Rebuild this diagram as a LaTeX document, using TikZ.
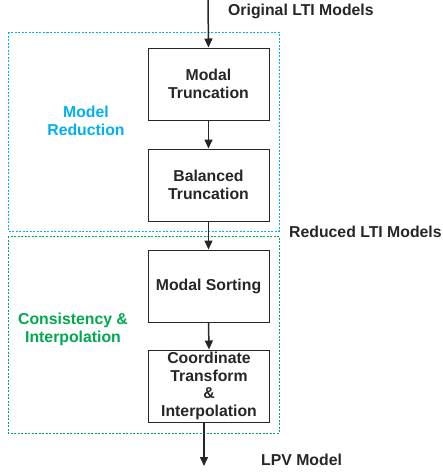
\documentclass[tikz,border=0pt]{standalone}
\usepackage{fontspec}
\setmainfont{Liberation Sans}
\usetikzlibrary{arrows.meta}
\definecolor{mrblue}{RGB}{0,176,240}
\definecolor{cigreen}{RGB}{0,168,80}
\begin{document}
\begin{tikzpicture}[x=1pt,y=-1pt,
  txt/.style={font=\fontsize{15.8}{17.8}\selectfont\bfseries, text=black!85, align=center, inner sep=0pt},
  stepbox/.style={draw=black!85, line width=1pt, minimum width=121pt, minimum height=72pt, inner sep=0pt, txt},
  flow/.style={draw=black!85, line width=1.5pt, -{Triangle[length=9pt,width=8pt]}},
  zone/.style={line width=0.8pt, dash pattern=on 2pt off 1.5pt},
  lbl/.style={font=\fontsize{15.8}{17.5}\selectfont\bfseries, align=center, inner sep=0pt}]
\useasboundingbox (0,0) rectangle (443,472);
\draw[zone, draw=mrblue] (8,32) rectangle (279,231);
\draw[zone, draw=cigreen] (8,236) rectangle (279,433);
\node[stepbox] (b1) at (208.5,84) {Modal\\Truncation};
\node[stepbox] (b2) at (208.5,185) {Balanced\\Truncation};
\node[stepbox] (b3) at (208.5,286) {Modal Sorting};
\node[stepbox] (b4) at (209,386) {Coordinate\\Transform\\\&\\Interpolation};
\coordinate (top) at (208,0);
\coordinate (b4out) at (204,422);
\coordinate (bot) at (204,466);
\draw[flow] (top) -- (b1.north);
\draw[flow] (b1.south) -- (b2.north);
\draw[flow] (b2.south) -- (b3.north);
\draw[flow] (b3.south) -- (b4.north);
\draw[flow] (b4out) -- (bot);
\node[txt, anchor=west] (t1) at (228,11) {Original LTI Models};
\node[txt, anchor=west] (t2) at (289,232) {Reduced LTI Models};
\node[txt, anchor=west] (t3) at (261,460) {LPV Model};
\node[lbl, text=mrblue] (l1) at (86,121) {Model\\Reduction};
\node[lbl, text=cigreen] (l2) at (73,329.5) {Consistency \&\\Interpolation};
\end{tikzpicture}
\end{document}
